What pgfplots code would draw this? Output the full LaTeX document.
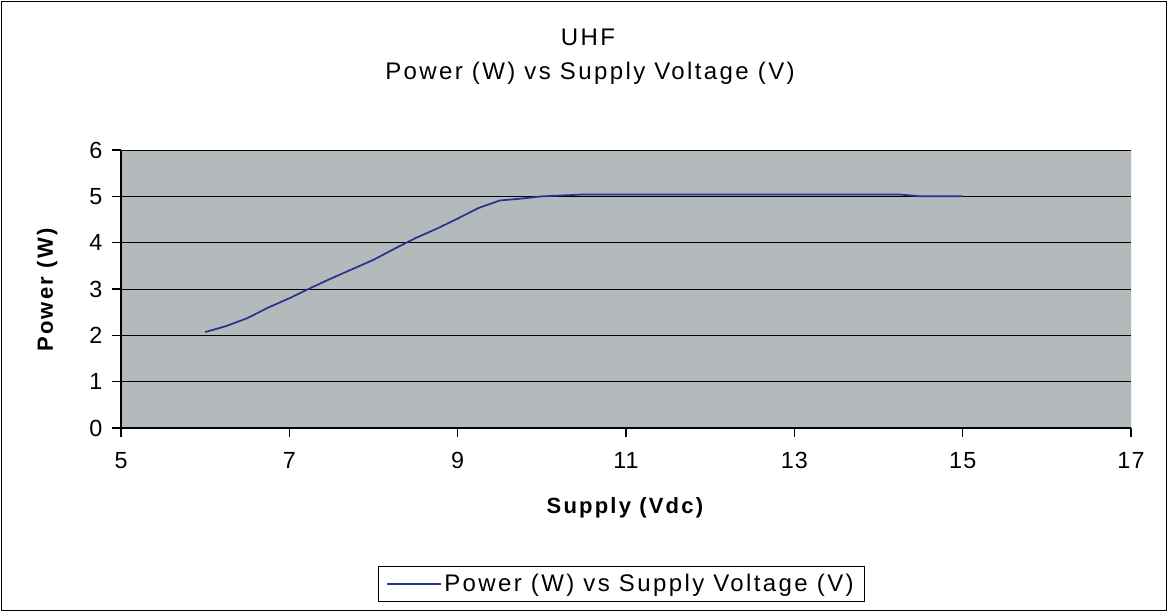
\documentclass[border=0pt]{standalone}
\usepackage{pgfplots}
\pgfplotsset{compat=1.18}
\usepackage{fontspec}
\setmainfont{Liberation Sans}
\newfontfamily\spaced[LetterSpace=10]{Liberation Sans}
\newfontfamily\spacedb[LetterSpace=10]{Liberation Sans}
\newfontfamily\spacedsm[LetterSpace=5]{Liberation Sans}
\definecolor{plotbg}{RGB}{180,185,188}
\definecolor{navyline}{RGB}{40,52,140}
\begin{document}
\begin{tikzpicture}[x=0.75pt,y=0.75pt]
\path[use as bounding box] (0,0) rectangle (1168,612);
\draw[black,line width=0.9pt] (1.5,1.5) rectangle (1166.5,610.5);
\node[font=\spaced\fontsize{18}{20}\selectfont] at (588,575) {UHF};
\node[font=\spaced\fontsize{18}{20}\selectfont] at (590,539) {Power (W) vs Supply Voltage (V)};
\begin{axis}[
  at={(90.75pt,138pt)}, anchor=south west,
  scale only axis, width=757.5pt, height=208.5pt,
  xmin=5, xmax=17, ymin=0, ymax=6,
  xtick={5,7,...,17}, ytick={0,1,...,6},
  axis lines*=left,
  axis line style={black, line width=0.8pt},
  tick style={black, line width=0.8pt},
  tick align=outside, major tick length=6.5pt,
  ymajorgrids, grid style={black, line width=0.6pt},
  axis background/.style={fill=plotbg},
  ticklabel style={font=\spacedsm\fontsize{17.5}{19}\selectfont},
  xticklabel style={yshift=-8pt},
  yticklabel style={xshift=-4pt},
  /pgf/number format/assume math mode=true,
  xlabel={\textbf{Supply (Vdc)}},
  ylabel={\textbf{Power (W)}},
  xlabel style={font=\spacedb\fontsize{16.5}{18}\selectfont, at={(axis description cs:0.5,-0.288)}, anchor=center},
  ylabel style={font=\spacedb\fontsize{16.5}{18}\selectfont, at={(axis description cs:-0.073,0.5)}, anchor=center},
  legend style={at={(axis description cs:0.4955,-0.561)}, anchor=center, draw=black, line width=0.6pt,
    font=\spaced\fontsize{18}{20}\selectfont, inner xsep=6pt, inner ysep=4pt, legend cell align=left},
  legend image code/.code={\draw[#1] (0pt,0pt) -- (40pt,0pt);},
]
\addplot[navyline, line width=1.3pt] coordinates {
(6,2.07) (6.25,2.2) (6.5,2.37) (6.75,2.6) (7,2.8) (7.25,3.02) (7.5,3.23) (7.75,3.43)
(8,3.63) (8.25,3.87) (8.5,4.1) (8.75,4.3) (9,4.52) (9.25,4.75) (9.5,4.91) (9.75,4.95)
(10,5.0) (10.25,5.02) (10.5,5.04) (11,5.04) (11.5,5.04) (12,5.04) (12.5,5.04) (13,5.04)
(13.5,5.04) (14,5.04) (14.25,5.04) (14.5,5.0) (14.75,5.0) (15,5.0)};
\addlegendentry{Power (W) vs Supply Voltage (V)}
\draw[gray, line width=0.6pt] (rel axis cs:0,1) -- (rel axis cs:1,1) -- (rel axis cs:1,0);
\draw[black, line width=0.6pt] (rel axis cs:0,1) -- (rel axis cs:1,1);
\end{axis}
\end{tikzpicture}
\end{document}
